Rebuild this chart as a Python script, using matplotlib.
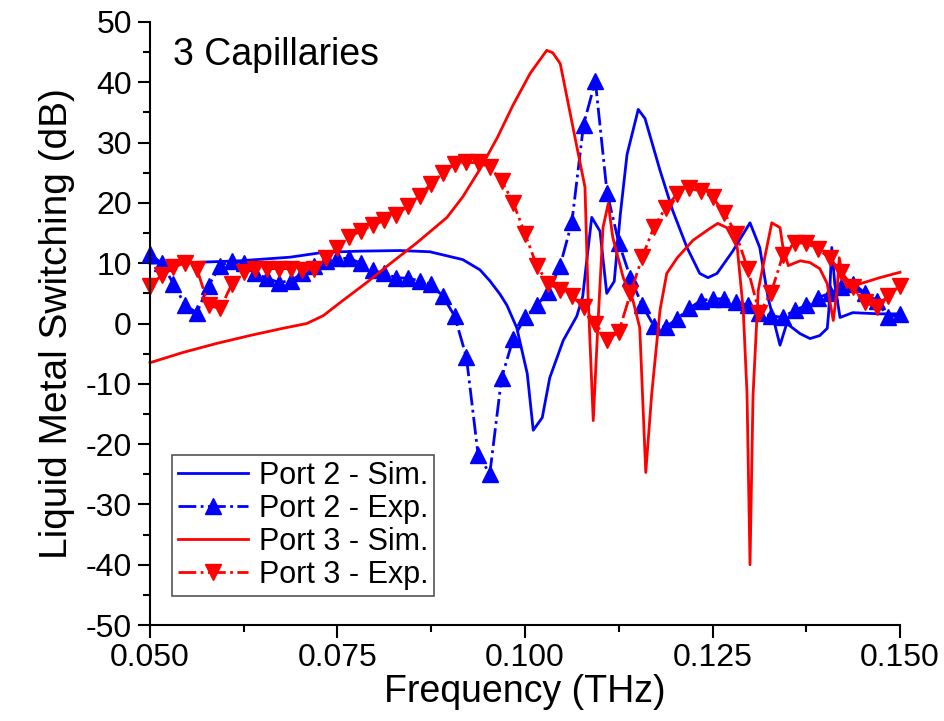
import matplotlib
matplotlib.use("Agg")
import matplotlib.pyplot as plt
from matplotlib.ticker import MultipleLocator, FormatStrFormatter

plt.rcParams['font.family'] = ['Liberation Sans', 'DejaVu Sans']
plt.rcParams['axes.unicode_minus'] = False

# simulated curves (THz, dB)
p2_sim_f = [0.0500, 0.0553, 0.0620, 0.0687, 0.0731, 0.0780, 0.0833, 0.0873, 0.0917,
            0.0940, 0.0953, 0.0967, 0.0976, 0.0989, 0.1003, 0.1011, 0.1023, 0.1033,
            0.1051, 0.1069, 0.1077, 0.1081, 0.1089, 0.1100, 0.1109, 0.1119, 0.1127,
            0.1136, 0.1151, 0.1160, 0.1180, 0.1197, 0.1216, 0.1233, 0.1244, 0.1256,
            0.1277, 0.1300, 0.1313, 0.1324, 0.1340, 0.1349, 0.1367, 0.1380, 0.1393,
            0.1403, 0.1405, 0.1409, 0.1413, 0.1420, 0.1437, 0.1473, 0.1500]
p2_sim_db = [10.0, 10.1, 10.4, 11.0, 11.8, 12.0, 12.1, 11.9, 10.6,
             8.9, 7.1, 4.8, 3.0, -0.7, -8.3, -17.7, -15.6, -9.0,
             -2.8, 1.2, 4.5, 9.0, 17.6, 15.3, 5.0, 7.0, 18.0,
             28.0, 35.5, 34.0, 25.4, 18.7, 12.6, 8.3, 7.6, 8.3,
             12.0, 16.7, 12.6, 4.3, -3.6, 0.0, -1.7, -2.5, -2.0,
             -0.8, 2.0, 12.6, 6.6, 1.0, 1.8, 1.6, 1.6]

p3_sim_f = [0.0500, 0.0544, 0.0589, 0.0633, 0.0677, 0.0709, 0.0731, 0.0757, 0.0789,
            0.0820, 0.0856, 0.0896, 0.0917, 0.0940, 0.0963, 0.0984, 0.1007, 0.1029,
            0.1037, 0.1047, 0.1064, 0.1080, 0.1084, 0.1091, 0.1097, 0.1104, 0.1111,
            0.1117, 0.1131, 0.1144, 0.1153, 0.1161, 0.1169, 0.1180, 0.1189, 0.1203,
            0.1224, 0.1247, 0.1257, 0.1269, 0.1283, 0.1291, 0.1296, 0.1300, 0.1304,
            0.1311, 0.1317, 0.1329, 0.1340, 0.1344, 0.1351, 0.1367, 0.1380, 0.1393,
            0.1403, 0.1407, 0.1411, 0.1416, 0.1419, 0.1423, 0.1429, 0.1447, 0.1473,
            0.1500]
p3_sim_db = [-6.5, -4.8, -3.3, -2.0, -0.8, 0.0, 1.3, 3.8, 6.8,
             9.9, 13.4, 17.6, 21.0, 25.6, 30.8, 36.2, 41.5, 45.3,
             44.9, 43.1, 32.5, 22.6, 5.0, -16.1, -0.7, 15.9, 19.9,
             14.3, 7.6, 3.8, -0.7, -24.7, -11.6, 2.2, 8.3, 10.9,
             13.8, 15.8, 16.6, 15.9, 12.6, 2.2, -11.6, -40.0, -12.0,
             5.5, 9.3, 16.7, 15.9, 12.6, 9.6, 10.4, 10.1, 9.1,
             6.6, 3.3, 0.5, 5.5, 10.9, 8.0, 6.0, 6.6, 7.6,
             8.5]

# measured points (same frequency grid for both ports)
exp_f = [0.05000, 0.05156, 0.05313, 0.05469, 0.05625, 0.05781, 0.05938, 0.06094,
         0.06250, 0.06406, 0.06563, 0.06719, 0.06875, 0.07031, 0.07188, 0.07344,
         0.07500, 0.07656, 0.07813, 0.07969, 0.08125, 0.08281, 0.08438, 0.08594,
         0.08750, 0.08906, 0.09063, 0.09219, 0.09375, 0.09531, 0.09688, 0.09844,
         0.10000, 0.10156, 0.10313, 0.10469, 0.10625, 0.10781, 0.10938, 0.11094,
         0.11250, 0.11406, 0.11563, 0.11719, 0.11875, 0.12031, 0.12188, 0.12344,
         0.12500, 0.12656, 0.12813, 0.12969, 0.13125, 0.13281, 0.13438, 0.13594,
         0.13750, 0.13906, 0.14063, 0.14219, 0.14375, 0.14531, 0.14688, 0.14844,
         0.15000]
p2_exp_db = [11.5, 10.0, 6.6, 3.0, 1.8, 6.3, 9.6, 10.4,
             10.0, 8.3, 7.5, 6.8, 7.1, 8.3, 9.6, 10.4,
             10.8, 10.8, 10.0, 8.8, 8.3, 7.6, 7.5, 7.1,
             6.5, 4.5, 1.2, -5.6, -21.8, -24.9, -9.0, -2.5,
             1.0, 3.0, 5.3, 9.6, 16.8, 33.0, 40.2, 21.7,
             13.4, 7.6, 3.0, -0.4, -0.6, 0.8, 2.5, 3.8,
             4.1, 4.1, 3.5, 3.1, 1.8, 1.3, 1.0, 2.2,
             3.0, 4.3, 5.0, 6.0, 6.6, 5.1, 3.8, 1.0,
             1.6]
p3_exp_db = [6.3, 8.0, 9.3, 10.1, 9.1, 3.0, 2.5, 6.6,
             8.5, 9.1, 9.1, 9.1, 9.1, 8.8, 9.1, 10.8,
             12.6, 14.3, 15.4, 16.3, 17.1, 18.0, 19.5, 21.2,
             23.2, 25.0, 26.5, 26.7, 26.7, 25.9, 23.7, 20.0,
             14.9, 9.6, 6.6, 5.6, 4.5, 2.8, 0.0, -2.7,
             -1.4, 5.0, 11.0, 16.0, 19.2, 21.5, 22.4, 22.0,
             20.9, 18.4, 14.9, 9.1, 1.7, 5.1, 11.3, 13.4,
             13.3, 12.4, 10.8, 8.5, 6.0, 3.5, 2.7, 4.6,
             6.3]

fig = plt.figure(figsize=(9.45, 7.21), dpi=100)
ax = fig.add_axes([0.1587, 0.1331, 0.7937, 0.8364])

lw = 2.0
ax.plot(p2_sim_f, p2_sim_db, color='#0000FF', lw=lw, label='Port 2 - Sim.', clip_on=False)
ax.plot(exp_f, p2_exp_db, color='#0000FF', lw=lw, ls='-.', marker='^', ms=12,
        label='Port 2 - Exp.', clip_on=False)
ax.plot(p3_sim_f, p3_sim_db, color='#FF0000', lw=lw, label='Port 3 - Sim.', clip_on=False)
ax.plot(exp_f, p3_exp_db, color='#FF0000', lw=lw, ls='-.', marker='v', ms=12,
        label='Port 3 - Exp.', clip_on=False)

ax.set_xlim(0.05, 0.15)
ax.set_ylim(-50, 50)
ax.xaxis.set_major_locator(MultipleLocator(0.025))
ax.xaxis.set_minor_locator(MultipleLocator(0.0125))
ax.xaxis.set_major_formatter(FormatStrFormatter('%.3f'))
ax.yaxis.set_major_locator(MultipleLocator(10))
ax.yaxis.set_minor_locator(MultipleLocator(5))

for s in ['top', 'right']:
    ax.spines[s].set_visible(False)
for s in ['left', 'bottom']:
    ax.spines[s].set_linewidth(1.5)
ax.tick_params(which='major', direction='out', length=9, width=1.5, labelsize=23, pad=4)
ax.tick_params(which='minor', direction='out', length=5, width=1.5)

ax.set_xlabel('Frequency (THz)', fontsize=27, labelpad=1)
ax.set_ylabel('Liquid Metal Switching (dB)', fontsize=28, labelpad=8)

ax.text(0.031, 0.945, '3 Capillaries', transform=ax.transAxes, fontsize=27,
        va='center', ha='left')

leg = ax.legend(loc='lower left', bbox_to_anchor=(0.029, 0.048), borderaxespad=0,
                fontsize=22, numpoints=1, handlelength=2.3, handletextpad=0.35,
                labelspacing=0.1, borderpad=0.2, fancybox=False, framealpha=1)
leg.get_frame().set_edgecolor('#555555')
leg.get_frame().set_linewidth(1.2)

fig.savefig('out.png', dpi=100)
